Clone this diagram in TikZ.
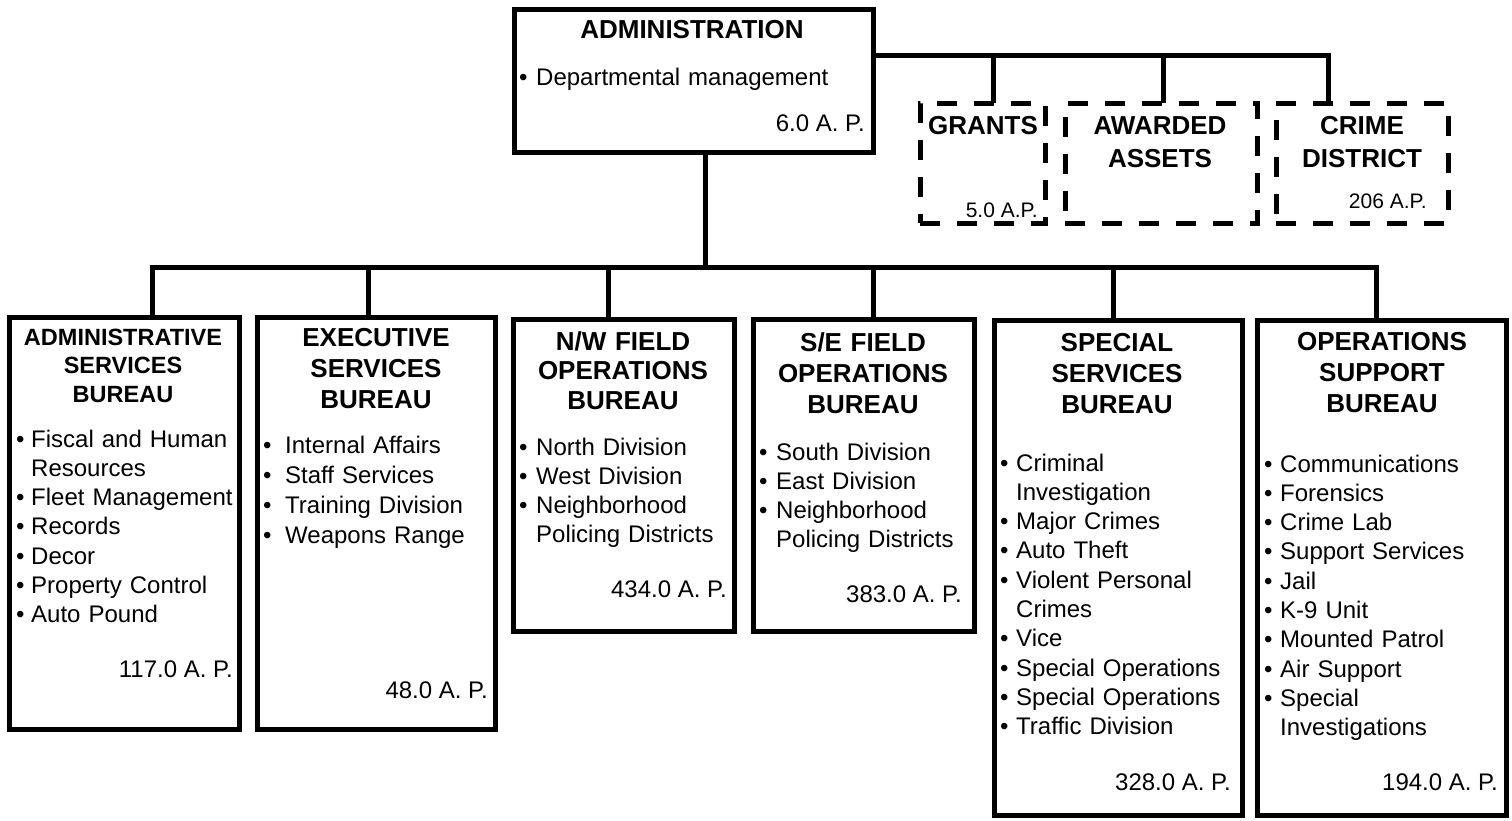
\documentclass[tikz,border=0pt]{standalone}
\usepackage{fontspec}
\setmainfont{Liberation Sans}
% one bulleted entry with a hanging indent of #1
\newcommand\itm[2]{\hangindent=#1\hangafter=1\makebox[#1][l]{•}#2\par}
\begin{document}
\begin{tikzpicture}[x=1pt,y=-1pt,
  box/.style={draw=black, line width=5pt, inner sep=0pt, outer sep=0pt, fill=white},
  dbox/.style={box, dash pattern=on 20pt off 17pt},
  conn/.style={draw=black, line width=5pt},
  ttl/.style={font=\bfseries\fontsize{26}{31}\selectfont, align=center, text width=340pt, anchor=base, inner sep=0pt},
  lst/.style={font=\fontsize{24}{29.3}\selectfont, text width=320pt, anchor=base west, inner sep=0pt},
  ap/.style={font=\fontsize{24}{29}\selectfont, anchor=base east, inner sep=0pt},
  apsmall/.style={font=\fontsize{21}{25}\selectfont, anchor=base east, inner sep=0pt},
]
\useasboundingbox (0,0) rectangle (1512,820);

% ---- boxes ----
\node[box, minimum width=359pt, minimum height=143pt] (adm) at (693.5,80.5) {};
\node[dbox, minimum width=125pt, minimum height=120pt] (grants) at (982.5,163) {};
\node[dbox, minimum width=192pt, minimum height=120pt] (awarded) at (1161,163) {};
\node[dbox, minimum width=172pt, minimum height=120pt] (crime) at (1362,163) {};

\node[box, minimum width=229.5pt, minimum height=412pt] (asb) at (124.25,523.5) {};
\node[box, minimum width=238pt, minimum height=412pt] (esb) at (376.5,523.5) {};
\node[box, minimum width=221pt, minimum height=312pt] (nw) at (624,475) {};
\node[box, minimum width=221pt, minimum height=312pt] (se) at (864,475) {};
\node[box, minimum width=248.5pt, minimum height=495.5pt] (ssb) at (1118.25,567.75) {};
\node[box, minimum width=249pt, minimum height=495.5pt] (osb) at (1382,567.75) {};

% ---- connectors ----
\coordinate (up) at (1328,55);
\coordinate (ug) at (993,55);
\coordinate (ua) at (1163,55);
\draw[conn] (up -| adm.east) -- (up) -- (up |- crime.north);
\draw[conn] (ug) -- (ug |- grants.north);
\draw[conn] (ua) -- (ua |- awarded.north);

\coordinate (hub) at (705,267);
\draw[conn] (hub |- adm.south) -- (hub);
\coordinate (t1) at (152,267);
\coordinate (t2) at (368,267);
\coordinate (t3) at (608,267);
\coordinate (t4) at (873,267);
\coordinate (t5) at (1113,267);
\coordinate (t6) at (1376,267);
\draw[conn] (t1 |- asb.north) -- (t1) -- (t6) -- (t6 |- osb.north);
\foreach \t/\b in {t2/esb, t3/nw, t4/se, t5/ssb}
  \draw[conn] (\t) -- (\t |- \b.north);

% ---- titles ----
\node[ttl] (admT) at (692,38) {ADMINISTRATION};
\node[ttl] (grT) at (983,134) {GRANTS};
\node[ttl, font=\bfseries\fontsize{26}{33}\selectfont] (awT) at (1160,134) {AWARDED\\ASSETS};
\node[ttl, font=\bfseries\fontsize{26}{33}\selectfont] (crT) at (1362,134) {CRIME\\DISTRICT};
\node[ttl, font=\bfseries\fontsize{23.5}{28.5}\selectfont] (asbT) at (123,345) {ADMINISTRATIVE\\SERVICES\\BUREAU};
\node[ttl] (esbT) at (376,346) {EXECUTIVE\\SERVICES\\BUREAU};
\node[ttl, font=\bfseries\fontsize{26}{29.5}\selectfont] (nwT) at (623,350) {N/W FIELD\\OPERATIONS\\BUREAU};
\node[ttl] (seT) at (863,351) {S/E FIELD\\OPERATIONS\\BUREAU};
\node[ttl] (ssbT) at (1117,351) {SPECIAL\\SERVICES\\BUREAU};
\node[ttl] (osbT) at (1382,350) {OPERATIONS\\SUPPORT\\BUREAU};

% ---- item lists ----
\node[lst] (admL) at (519,85) {\itm{17pt}{Departmental management}};
\node[lst] (asbL) at (16,447) {%
  \itm{15pt}{Fiscal and Human\newline Resources}
  \itm{15pt}{Fleet Management}
  \itm{15pt}{Records}
  \itm{15pt}{Decor}
  \itm{15pt}{Property Control}
  \itm{15pt}{Auto Pound}};
\node[lst, font=\fontsize{24}{30}\selectfont] (esbL) at (263,453) {%
  \itm{22pt}{Internal Affairs}
  \itm{22pt}{Staff Services}
  \itm{22pt}{Training Division}
  \itm{22pt}{Weapons Range}};
\node[lst] (nwL) at (519,455) {%
  \itm{17pt}{North Division}
  \itm{17pt}{West Division}
  \itm{17pt}{Neighborhood\newline Policing Districts}};
\node[lst] (seL) at (759,460) {%
  \itm{17pt}{South Division}
  \itm{17pt}{East Division}
  \itm{17pt}{Neighborhood\newline Policing Districts}};
\node[lst] (ssbL) at (1000,471) {%
  \itm{16pt}{Criminal\newline Investigation}
  \itm{16pt}{Major Crimes}
  \itm{16pt}{Auto Theft}
  \itm{16pt}{Violent Personal\newline Crimes}
  \itm{16pt}{Vice}
  \itm{16pt}{Special Operations}
  \itm{16pt}{Special Operations}
  \itm{16pt}{Traffic Division}};
\node[lst] (osbL) at (1264,472) {%
  \itm{16pt}{Communications}
  \itm{16pt}{Forensics}
  \itm{16pt}{Crime Lab}
  \itm{16pt}{Support Services}
  \itm{16pt}{Jail}
  \itm{16pt}{K-9 Unit}
  \itm{16pt}{Mounted Patrol}
  \itm{16pt}{Air Support}
  \itm{16pt}{Special\newline Investigations}};

% ---- staffing figures ----
\node[ap] (admP) at (865,131) {6.0 A. P.};
\node[ap] (asbP) at (233,677) {117.0 A. P.};
\node[ap] (esbP) at (488,698) {48.0 A. P.};
\node[ap] (nwP) at (727,597) {434.0 A. P.};
\node[ap] (seP) at (962,602) {383.0 A. P.};
\node[ap] (ssbP) at (1231,790) {328.0 A. P.};
\node[ap] (osbP) at (1498,790) {194.0 A. P.};
\node[apsmall] (grP) at (1038,217) {5.0 A.P.};
\node[apsmall] (crP) at (1427,208) {206 A.P.};
\end{tikzpicture}
\end{document}
